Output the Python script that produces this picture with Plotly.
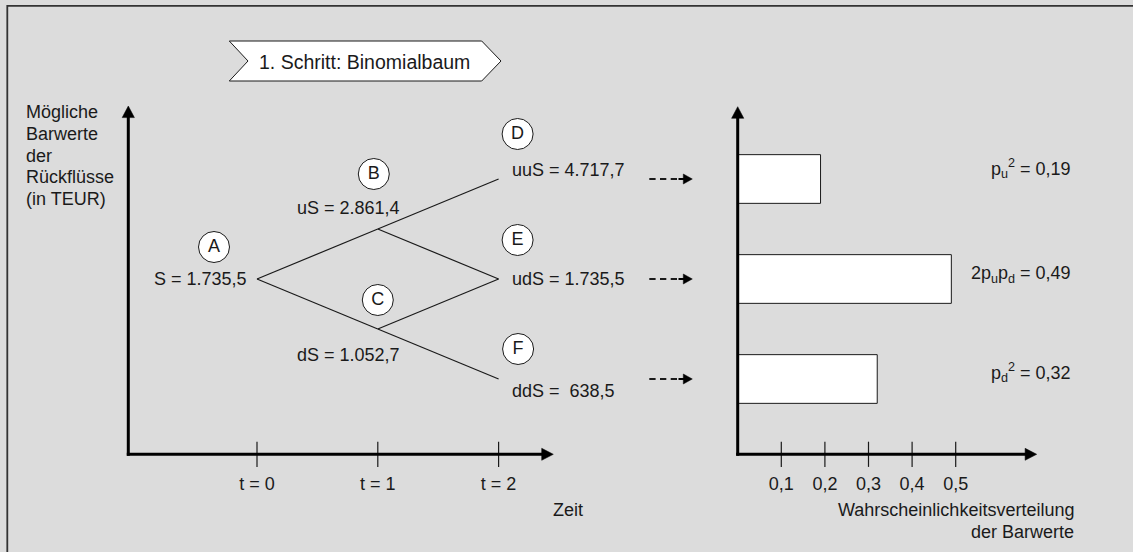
import plotly.graph_objects as go

W, H = 1133, 552
FONT = "Liberation Sans, Arial, Helvetica, sans-serif"
INK = "#1a1a1a"
BG = "#dcdcdc"

# ---------------- data ----------------
node_names = ["A", "B", "C", "D", "E", "F"]
node_time = [0, 1, 1, 2, 2, 2]
node_ups = [0, 1, 0, 2, 1, 0]            # number of up-moves reaching the node
node_prefix = ["S", "uS", "dS", "uuS", "udS", "ddS"]
node_values = [1735.5, 2861.4, 1052.7, 4717.7, 1735.5, 638.5]
edges = [("A", "B"), ("A", "C"), ("B", "D"), ("B", "E"), ("C", "E"), ("C", "F")]

time_ticks = [0, 1, 2]
time_labels = ["t = 0", "t = 1", "t = 2"]

prob_nodes = ["D", "E", "F"]
prob_names = ["p<sub>u</sub><sup>2</sup>", "2p<sub>u</sub>p<sub>d</sub>", "p<sub>d</sub><sup>2</sup>"]
prob_values = [0.19, 0.49, 0.32]
prob_ticks = [0.1, 0.2, 0.3, 0.4, 0.5]
prob_tick_labels = ["0,1", "0,2", "0,3", "0,4", "0,5"]

title_text = "1. Schritt: Binomialbaum"
y_title_lines = ["Mögliche", "Barwerte", "der", "Rückflüsse", "(in TEUR)"]
x_title_left = "Zeit"
x_title_right = ["Wahrscheinlichkeitsverteilung", "der Barwerte"]

# ---------------- geometry (pixel layout of the canvas) ----------------
T0_PX, T_STEP = 257.0, 120.8      # time axis: pixel of t=0, pixels per period
L0_PY, L_STEP = 279.0, 50.0       # lattice level 0 pixel row, pixels per level
P0_PX, P_STEP = 737.7, 436.0      # probability axis: pixel of 0, pixels per 1.0


def px(x):
    return x / W


def py(y):
    return 1 - y / H


def lev(y_pix):
    return (L0_PY - y_pix) / L_STEP


def fmt_de(v):
    s = f"{v:,.1f}".replace(",", "X").replace(".", ",").replace("X", ".")
    return s if v >= 1000 else "\u00a0" + s


level = {n: 2 * u - t for n, u, t in zip(node_names, node_ups, node_time)}
tpos = dict(zip(node_names, node_time))

AXIS_Y = 454.3
AX_L = lev(AXIS_Y)

fig = go.Figure()

# tree edges
ex, ey = [], []
for a, b in edges:
    ex += [tpos[a], tpos[b], None]
    ey += [level[a], level[b], None]
fig.add_trace(go.Scatter(x=ex, y=ey, mode="lines", line=dict(color=INK, width=1.2),
                         hoverinfo="skip", showlegend=False))

# circled node letters (offsets in pixels from the node point)
circ_off = {"A": (-43, 32), "B": (-4, 55), "C": (0, 29), "D": (19, 45), "E": (19, 39), "F": (19.5, 30)}
fig.add_trace(go.Scatter(
    x=[tpos[n] + circ_off[n][0] / T_STEP for n in node_names],
    y=[level[n] + circ_off[n][1] / L_STEP for n in node_names],
    mode="markers+text", text=node_names, textposition="middle center",
    textfont=dict(family=FONT, size=18, color=INK),
    marker=dict(symbol="circle", size=31, color="white", line=dict(color=INK, width=1)),
    hoverinfo="skip", showlegend=False))

# time axis ticks + labels
fig.add_trace(go.Scatter(
    x=time_ticks, y=[AX_L] * len(time_ticks), mode="markers",
    marker=dict(symbol="line-ns", size=18, line=dict(color=INK, width=1.2)),
    hoverinfo="skip", showlegend=False))
fig.add_trace(go.Scatter(
    x=time_ticks, y=[lev(485)] * len(time_ticks), mode="text", text=time_labels,
    textposition="middle center", textfont=dict(family=FONT, size=18, color=INK),
    hoverinfo="skip", showlegend=False))

# probability bars
fig.add_trace(go.Bar(
    x=prob_values, y=[level[n] for n in prob_nodes], orientation="h",
    xaxis="x2", yaxis="y", width=48.7 / L_STEP,
    marker=dict(color="white", line=dict(color=INK, width=1)),
    hoverinfo="skip", showlegend=False))

# probability axis ticks + labels
fig.add_trace(go.Scatter(
    x=prob_ticks, y=[AX_L] * len(prob_ticks), mode="markers", xaxis="x2", yaxis="y",
    marker=dict(symbol="line-ns", size=18, line=dict(color=INK, width=1.2)),
    hoverinfo="skip", showlegend=False))
fig.add_trace(go.Scatter(
    x=prob_ticks, y=[lev(485)] * len(prob_ticks), mode="text", text=prob_tick_labels,
    xaxis="x2", yaxis="y", textposition="middle center",
    textfont=dict(family=FONT, size=18, color=INK),
    hoverinfo="skip", showlegend=False))

annotations = []
shapes = []

# node value labels
lab_off = {"A": (-8, 0, "right"), "B": (24.4, 21, "right"), "C": (24.4, -25.7, "right"),
           "D": (11, 9.3, "left"), "E": (11, 0, "left"), "F": (11, -11.7, "left")}
for n, pre, v in zip(node_names, node_prefix, node_values):
    dx, dy, anc = lab_off[n]
    annotations.append(dict(
        x=tpos[n], y=level[n], xref="x", yref="y", text=f"{pre} = {fmt_de(v)}",
        showarrow=False, xanchor=anc, yanchor="middle", xshift=dx, yshift=dy,
        font=dict(family=FONT, size=18, color=INK)))

# probability labels
prob_label_dy = [11, 5, 7]
for n, name, p, dy in zip(prob_nodes, prob_names, prob_values, prob_label_dy):
    annotations.append(dict(
        x=px(1072.5), y=level[n], xref="paper", yref="y",
        text=f"{name} = {str(p).replace('.', ',')}", showarrow=False,
        xanchor="right", yanchor="middle", yshift=dy,
        font=dict(family=FONT, size=18, color=INK)))


# arrow helpers: straight line + filled triangular head, in pixel layout coordinates
def head_path(x_tip, y_tip, direction, length, half):
    if direction == "up":
        pts = [(x_tip, y_tip), (x_tip - half, y_tip + length), (x_tip + half, y_tip + length)]
    else:  # right
        pts = [(x_tip, y_tip), (x_tip - length, y_tip - half), (x_tip - length, y_tip + half)]
    return "M " + " L ".join(f"{px(x):.5f},{py(y):.5f}" for x, y in pts) + " Z"


def arrow(x0, y0, x_tip, y_tip, direction, width, length, half, dash="solid"):
    line_end = (x_tip - length + 1, y_tip) if direction == "right" else (x_tip, y_tip + length - 1)
    shapes.append(dict(type="line", xref="paper", yref="paper", x0=px(x0), y0=py(y0),
                       x1=px(line_end[0]), y1=py(line_end[1]),
                       line=dict(color="black", width=width, dash=dash)))
    shapes.append(dict(type="path", xref="paper", yref="paper",
                       path=head_path(x_tip, y_tip, direction, length, half),
                       fillcolor="black", line=dict(color="black", width=0.5)))


# axes
arrow(128.3, AXIS_Y + 1.5, 128.3, 106.0, "up", 3, 11.6, 6.1)
arrow(126.8, AXIS_Y, 553.3, AXIS_Y, "right", 3, 11.6, 6.0)
arrow(737.7, AXIS_Y + 1.5, 737.7, 106.7, "up", 3, 11.6, 6.1)
arrow(736.2, AXIS_Y, 1036.7, AXIS_Y, "right", 3, 11.6, 6.0)

# dashed transfer arrows between tree and distribution
for n in prob_nodes:
    yp = L0_PY - level[n] * L_STEP
    shapes.append(dict(type="line", xref="paper", yref="paper", x0=px(649.3), x1=px(677.5),
                       y0=py(yp), y1=py(yp), line=dict(color=INK, width=2, dash="6.3px,4.4px")))
    arrow(678.5, yp, 692.3, yp, "right", 2, 9.0, 5.0)

# axis titles
for i, line in enumerate(y_title_lines):
    annotations.append(dict(x=px(24), y=py(112.3 + i * 21.7), xref="paper", yref="paper",
                            text=line, showarrow=False, xanchor="left", yanchor="middle",
                            font=dict(family=FONT, size=18, color=INK)))
annotations.append(dict(x=px(567.5), y=py(510), xref="paper", yref="paper", text=x_title_left,
                        showarrow=False, xanchor="center", yanchor="middle",
                        font=dict(family=FONT, size=18, color=INK)))
for i, line in enumerate(x_title_right):
    annotations.append(dict(x=px(1076), y=py(510 + i * 21.5), xref="paper", yref="paper",
                            text=line, showarrow=False, xanchor="right", yanchor="middle",
                            font=dict(family=FONT, size=18, color=INK)))

# title chevron
pts = [(229.3, 41), (481.7, 41), (501, 61), (481.7, 81), (229.3, 81), (248, 61)]
path = "M " + " L ".join(f"{px(x):.5f},{py(y):.5f}" for x, y in pts) + " Z"
shapes.append(dict(type="path", xref="paper", yref="paper", path=path,
                   fillcolor="white", line=dict(color=INK, width=1)))
annotations.append(dict(x=px(364.5), y=py(61.5), xref="paper", yref="paper", text=title_text,
                        showarrow=False, xanchor="center", yanchor="middle",
                        font=dict(family=FONT, size=19.5, color=INK)))

# frame: rectangle whose right and bottom sides lie outside the canvas
shapes.append(dict(type="rect", xref="paper", yref="paper", x0=px(7.3), x1=px(W + 20),
                   y0=py(5.8), y1=py(H + 20), fillcolor="rgba(0,0,0,0)",
                   line=dict(color="#333333", width=1.8), layer="below"))

fig.update_layout(
    width=W, height=H, autosize=False,
    margin=dict(l=0, r=0, t=0, b=0),
    paper_bgcolor=BG, plot_bgcolor=BG,
    showlegend=False,
    xaxis=dict(domain=[0, 1], range=[-T0_PX / T_STEP, (W - T0_PX) / T_STEP], visible=False, fixedrange=True),
    xaxis2=dict(domain=[0, 1], range=[-P0_PX / P_STEP, (W - P0_PX) / P_STEP], visible=False,
                overlaying="x", anchor="y", fixedrange=True),
    yaxis=dict(domain=[0, 1], range=[(L0_PY - H) / L_STEP, L0_PY / L_STEP], visible=False, fixedrange=True),
    annotations=annotations,
    shapes=shapes,
)

fig.write_html("out.html", config={"displayModeBar": False, "staticPlot": True})
